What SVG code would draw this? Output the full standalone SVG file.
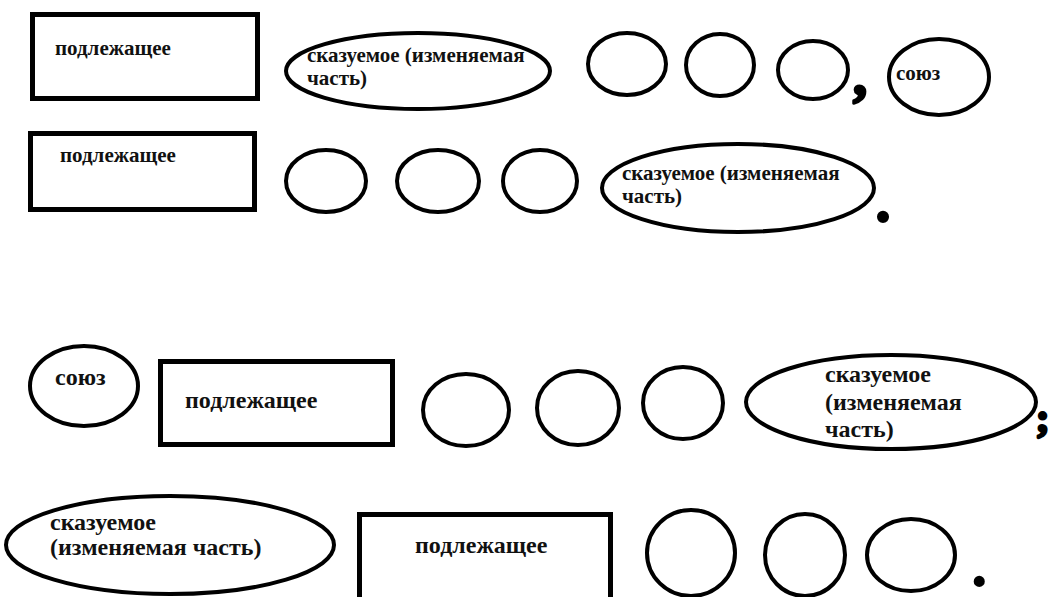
<svg xmlns="http://www.w3.org/2000/svg" width="1051" height="597" viewBox="0 0 1051 597">
<style>
.b{fill:#fff;stroke:#000;stroke-width:5}
.e{fill:#fff;stroke:#000;stroke-width:4}
.t{font-family:"Liberation Serif","Times New Roman",serif;font-weight:bold;fill:#111}
.s{font-size:21px}
.l{font-size:24px}
.p{font-family:"Liberation Serif","Times New Roman",serif;font-weight:bold;fill:#000;stroke:#000;stroke-width:3;stroke-linejoin:round}
</style>
<rect width="1051" height="597" fill="#fff"/>
<g id="row1">
<g id="r1-subject"><rect class="b" x="32.5" y="14.5" width="225" height="84"/><text class="t s" x="55" y="55">подлежащее</text></g>
<g id="r1-predicate"><ellipse class="e" cx="418" cy="71" rx="132" ry="38"/><text class="t s" x="307" y="62">сказуемое (изменяемая</text><text class="t s" x="307" y="85">часть)</text></g>
<g id="r1-c1"><ellipse class="e" cx="627" cy="64" rx="39" ry="31"/></g>
<g id="r1-c2"><ellipse class="e" cx="720" cy="65" rx="34" ry="31"/></g>
<g id="r1-c3"><ellipse class="e" cx="813" cy="70" rx="35" ry="29"/></g>
<text class="p" x="853" y="94" font-size="56">,</text>
<g id="r1-conj"><ellipse class="e" cx="939" cy="77" rx="50" ry="38"/><text class="t s" x="896" y="80">союз</text></g>
</g>
<g id="row2">
<g id="r2-subject"><rect class="b" x="30.5" y="133.5" width="224" height="76"/><text class="t s" x="60" y="162">подлежащее</text></g>
<g id="r2-c1"><ellipse class="e" cx="326" cy="181" rx="40" ry="31"/></g>
<g id="r2-c2"><ellipse class="e" cx="438" cy="181" rx="41" ry="31"/></g>
<g id="r2-c3"><ellipse class="e" cx="540" cy="181" rx="37" ry="31"/></g>
<g id="r2-predicate"><ellipse class="e" cx="738" cy="188" rx="136" ry="44"/><text class="t s" x="622" y="180">сказуемое (изменяемая</text><text class="t s" x="622" y="203">часть)</text></g>
<text class="p" x="876" y="221" font-size="56">.</text>
</g>
<g id="row3">
<g id="r3-conj"><ellipse class="e" cx="84" cy="386" rx="54" ry="40"/><text class="t l" x="55" y="385">союз</text></g>
<g id="r3-subject"><rect class="b" x="160.5" y="361.5" width="232" height="83"/><text class="t l" x="185" y="408">подлежащее</text></g>
<g id="r3-c1"><ellipse class="e" cx="466" cy="410" rx="43" ry="36"/></g>
<g id="r3-c2"><ellipse class="e" cx="578" cy="408" rx="41" ry="37"/></g>
<g id="r3-c3"><ellipse class="e" cx="683" cy="403" rx="40" ry="36"/></g>
<g id="r3-predicate"><ellipse class="e" cx="891" cy="402" rx="145" ry="47"/><text class="t l" x="825" y="382">сказуемое</text><text class="t l" x="825" y="410">(изменяемая</text><text class="t l" x="825" y="437">часть)</text></g>
<text class="p" x="1036" y="432" font-size="40">;</text>
</g>
<g id="row4">
<g id="r4-predicate"><ellipse class="e" cx="170" cy="545" rx="164" ry="49"/><text class="t l" x="50" y="530">сказуемое</text><text class="t l" x="50" y="555">(изменяемая часть)</text></g>
<g id="r4-subject"><rect class="b" x="359.5" y="514.5" width="251" height="90"/><text class="t l" x="415" y="553">подлежащее</text></g>
<g id="r4-c1"><ellipse class="e" cx="691" cy="553" rx="44" ry="43"/></g>
<g id="r4-c2"><ellipse class="e" cx="805" cy="555" rx="40" ry="41"/></g>
<g id="r4-c3"><ellipse class="e" cx="911" cy="555" rx="44" ry="36"/></g>
<text class="p" x="973" y="585" font-size="50">.</text>
</g>
<g id="connectors"/>
</svg>
